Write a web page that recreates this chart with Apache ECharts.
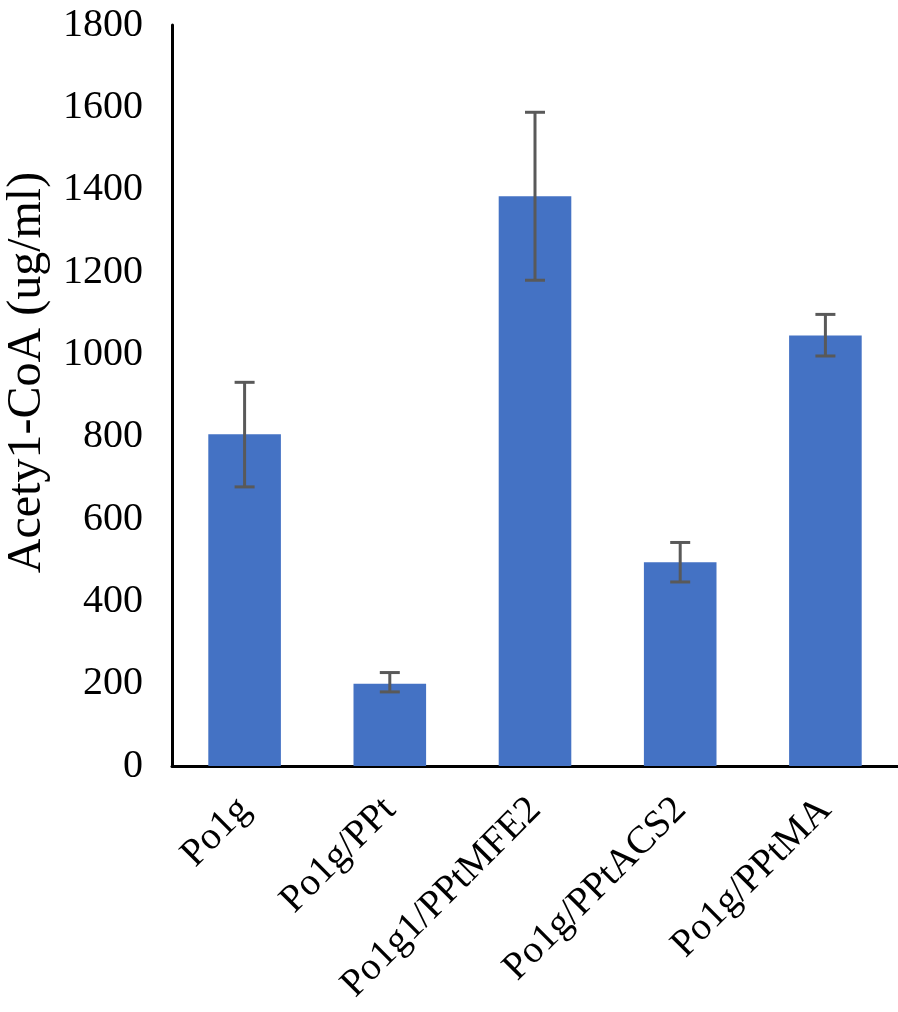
<!DOCTYPE html>
<html>
<head>
<meta charset="utf-8">
<script src="https://cdn.jsdelivr.net/npm/echarts@6/dist/echarts.min.js"></script>
<style>
  html, body { margin: 0; padding: 0; background: #fff; }
  #chart { width: 898px; height: 1012px; }
</style>
</head>
<body>
<div id="chart"></div>
<script>
const categories = ["Po1g", "Po1g/PPt", "Po1g1/PPtMFE2", "Po1g/PPtACS2", "Po1g/PPtMA"]
const values = [806, 200, 1384, 495, 1046]
const errLow = [678, 180, 1180, 447, 996]
const errHigh = [932, 227, 1588, 543, 1097]

const chart = echarts.init(document.getElementById("chart"))
const font = "'Liberation Serif', 'Times New Roman', serif"

const errData = categories.map((c, i) => [i, errLow[i], errHigh[i]])

const options = {
  animation: false,
  grid: {
    top: 25,
    bottom: 246,
    left: 172,
    right: 0,
    outerBoundsMode: "none"
  },
  xAxis: {
    type: "category",
    data: categories,
    axisTick: { show: false },
    axisLine: { show: true, lineStyle: { color: "#000", width: 3 } },
    axisLabel: {
      rotate: 45,
      interval: 0,
      margin: 38,
      fontFamily: font,
      fontSize: 39,
      color: "#000"
    }
  },
  yAxis: {
    type: "value",
    min: 0,
    max: 1800,
    interval: 200,
    name: "Acety1-CoA (ug/ml)",
    nameLocation: "middle",
    nameGap: 121,
    nameTextStyle: { fontFamily: font, fontSize: 48, color: "#000", padding: [0, 0, 0, 46] },
    axisTick: { show: false },
    axisLine: { show: true, lineStyle: { color: "#000", width: 3 } },
    splitLine: { show: false },
    axisLabel: {
      margin: 29,
      fontFamily: font,
      fontSize: 40,
      color: "#000",
      formatter: function (v) { return String(v) }
    }
  },
  series: [
    {
      type: "bar",
      data: values,
      barWidth: "50%",
      itemStyle: { color: "#4472C4" }
    },
    {
      type: "custom",
      data: errData,
      z: 10,
      renderItem: function (params, api) {
        const x = api.value(0)
        const lo = api.coord([x, api.value(1)])
        const hi = api.coord([x, api.value(2)])
        const half = 10
        const style = { stroke: "#595959", lineWidth: 3 }
        return {
          type: "group",
          children: [
            { type: "line", shape: { x1: lo[0], y1: lo[1], x2: hi[0], y2: hi[1] }, style: style },
            { type: "line", shape: { x1: hi[0] - half, y1: hi[1], x2: hi[0] + half, y2: hi[1] }, style: style },
            { type: "line", shape: { x1: lo[0] - half, y1: lo[1], x2: lo[0] + half, y2: lo[1] }, style: style }
          ]
        }
      }
    }
  ]
}

chart.setOption(options)
</script>
</body>
</html>
